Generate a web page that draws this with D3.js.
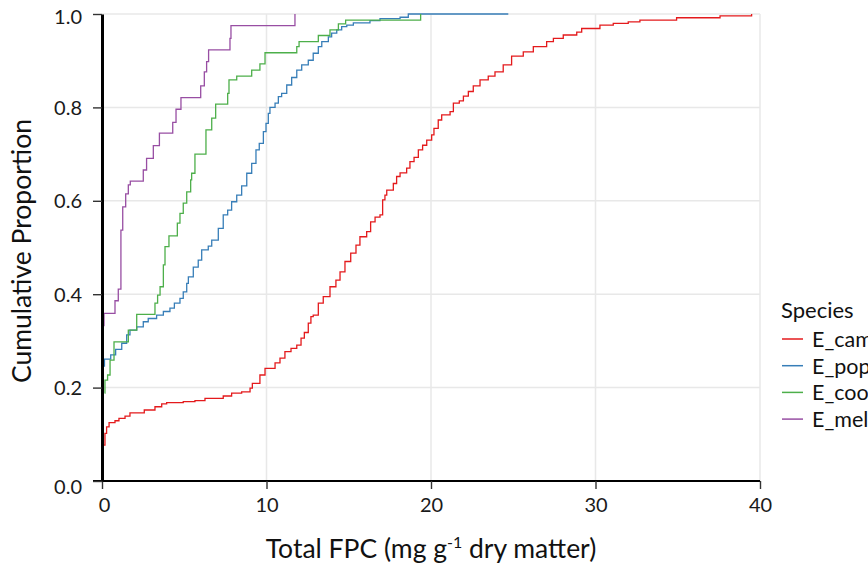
<!DOCTYPE html>
<html><head><meta charset="utf-8">
<script src="https://cdn.jsdelivr.net/npm/d3@7"></script>
<style>body{margin:0;background:#fff;} svg{display:block;font-family:Lato, "Open Sans", sans-serif;}</style>
</head><body><svg id="c" width="868" height="564"></svg>
<script>
const species = ["E_cam", "E_pop", "E_coo", "E_mel"];
const colors = ["#e41a1c", "#377eb8", "#4daf4a", "#984ea3"];
const xTicks = [0, 10, 20, 30, 40];
const yTicks = [0, 0.2, 0.4, 0.6, 0.8, 1.0];

const camFPC = [0.12,0.18,0.28,0.43,0.79,1.03,1.40,1.70,2.57,3.22,3.63,3.93,4.94,5.65,6.26,7.37,7.88,8.49,9.0,9.14,9.6,9.91,10.52,10.82,11.12,11.49,11.84,12.10,12.30,12.54,12.70,12.84,13.15,13.45,13.86,14.22,14.47,14.77,15.12,15.44,15.68,16.09,16.33,16.60,16.90,17.06,17.20,17.31,17.71,17.91,18.12,18.52,18.72,18.97,19.23,19.49,19.74,20.04,20.18,20.44,20.65,21.16,21.36,21.72,21.97,22.27,22.57,22.98,23.48,23.89,24.39,24.90,25.61,26.22,27.03,27.44,28.04,28.86,29.16,30.27,31.08,31.99,32.70,34.93,37.57,39.49];
const camProp = [0.077,0.102,0.116,0.125,0.129,0.134,0.139,0.146,0.152,0.159,0.165,0.168,0.170,0.172,0.177,0.182,0.188,0.191,0.199,0.209,0.227,0.241,0.253,0.263,0.277,0.284,0.291,0.306,0.318,0.338,0.352,0.355,0.381,0.395,0.416,0.430,0.448,0.470,0.488,0.505,0.523,0.534,0.555,0.565,0.570,0.602,0.612,0.623,0.637,0.652,0.660,0.670,0.684,0.693,0.709,0.719,0.730,0.741,0.755,0.773,0.784,0.791,0.809,0.814,0.824,0.834,0.846,0.859,0.867,0.876,0.891,0.910,0.919,0.930,0.941,0.948,0.955,0.961,0.969,0.976,0.980,0.983,0.987,0.992,0.996,1.0];

const popFPC = [0.12,0.15,0.53,0.83,1.20,1.50,1.70,2.11,2.51,2.81,3.32,3.73,4.13,4.40,4.74,4.94,5.15,5.25,5.55,5.85,6.06,6.46,6.67,7.07,7.37,7.64,7.88,8.19,8.49,8.80,9.10,9.36,9.56,9.81,9.97,10.11,10.21,10.52,10.72,10.92,11.23,11.53,11.84,12.14,12.54,12.84,13.15,13.36,13.76,13.96,14.27,14.57,14.88,15.28,16.29,16.90,18.12,18.62,24.7];
const popProp = [0.246,0.261,0.270,0.282,0.295,0.313,0.323,0.330,0.341,0.348,0.355,0.363,0.370,0.381,0.391,0.405,0.423,0.437,0.458,0.473,0.495,0.503,0.516,0.541,0.570,0.580,0.598,0.612,0.632,0.659,0.680,0.709,0.723,0.748,0.766,0.787,0.800,0.809,0.823,0.830,0.848,0.864,0.880,0.891,0.901,0.916,0.930,0.941,0.951,0.959,0.966,0.973,0.976,0.981,0.986,0.990,0.993,1.0,1.0];

const cooFPC = [0.16,0.18,0.34,0.49,0.73,1.60,2.11,3.22,3.38,3.53,3.73,3.83,4.07,4.58,4.74,4.94,5.15,5.39,5.45,5.65,6.32,6.67,6.91,7.64,7.72,8.19,9.10,9.60,9.91,11.84,11.98,13.15,13.86,14.37,14.81,19.37];
const cooProp = [0.188,0.216,0.227,0.259,0.298,0.323,0.357,0.381,0.398,0.416,0.463,0.502,0.525,0.552,0.573,0.595,0.619,0.645,0.659,0.700,0.752,0.777,0.807,0.830,0.859,0.867,0.880,0.893,0.917,0.930,0.941,0.954,0.966,0.979,0.987,1.0];

const melFPC = [0.08,0.12,0.79,0.99,1.15,1.26,1.44,1.60,1.72,2.51,2.71,3.12,3.49,4.30,4.50,4.80,6.00,6.22,6.36,6.48,7.78,7.84,11.73];
const melProp = [0.333,0.359,0.386,0.411,0.537,0.587,0.615,0.634,0.642,0.666,0.691,0.718,0.745,0.768,0.796,0.821,0.846,0.876,0.898,0.923,0.948,0.975,1.0];

const seriesFPC = [camFPC, popFPC, cooFPC, melFPC];
const seriesProp = [camProp, popProp, cooProp, melProp];

const svg = d3.select("#c");
const x = d3.scaleLinear().domain([0, 40]).range([102, 760]);
const y = d3.scaleLinear().domain([0, 1]).range([481, 14]);

// grid
const grid = svg.append("g");
grid.selectAll(".gx").data(xTicks.slice(1)).join("line")
  .attr("x1", d => x(d)).attr("x2", d => x(d)).attr("y1", y(1)).attr("y2", y(0))
  .attr("stroke", "#e8e8e8").attr("stroke-width", 1.5);
grid.selectAll(".gy").data(yTicks.slice(1)).join("line")
  .attr("x1", x(0)).attr("x2", x(40)).attr("y1", d => y(d)).attr("y2", d => y(d))
  .attr("stroke", "#e8e8e8").attr("stroke-width", 1.5);

// curves
const line = d3.line().x(d => x(d[0])).y(d => y(d[1])).curve(d3.curveStepAfter);
species.forEach((s, i) => {
  const pts = seriesFPC[i].map((v, j) => [v, seriesProp[i][j]]);
  svg.append("path").datum(pts).attr("d", line)
    .attr("fill", "none").attr("stroke", colors[i]).attr("stroke-width", 1.3);
});

// axes
const xAxis = svg.append("g").attr("transform", `translate(0,${y(0)})`)
  .call(d3.axisBottom(x).tickValues(xTicks).tickFormat(d3.format("d")).tickSize(8).tickSizeOuter(0));
xAxis.select(".domain").attr("stroke", "#000").attr("stroke-width", 2.2).attr("d", `M${x(0)-9},0H${x(40)}`);
xAxis.selectAll(".tick line").attr("stroke", "#333").attr("stroke-width", 1.4);
xAxis.selectAll(".tick text").attr("font-size", 20).attr("fill", "#1a1a1a").attr("dy", "1.0em").attr("dx", d => d === 0 ? 2 : 0);

const yAxis = svg.append("g").attr("transform", `translate(${x(0)},0)`)
  .call(d3.axisLeft(y).tickValues(yTicks).tickFormat(d3.format(".1f")).tickSize(9).tickSizeOuter(0));
yAxis.select(".domain").attr("stroke", "#000").attr("stroke-width", 3);
yAxis.selectAll(".tick line").attr("stroke", "#333").attr("stroke-width", 1.4);
yAxis.selectAll(".tick text").attr("font-size", 20).attr("fill", "#1a1a1a").attr("x", -20)
  .attr("dy", d => d === 0 ? "0.62em" : (d === 1 ? "0.45em" : "0.35em"));
yAxis.selectAll("text").attr("font-family", "Lato, sans-serif");
xAxis.selectAll("text").attr("font-family", "Lato, sans-serif");

// titles
svg.append("text").attr("transform", `translate(31,251) rotate(-90)`)
  .attr("text-anchor", "middle").attr("font-size", 26.5).attr("fill", "#111")
  .text("Cumulative Proportion");
const xt = svg.append("text").attr("x", 431).attr("y", 558)
  .attr("text-anchor", "middle").attr("font-size", 26.5).attr("fill", "#111");
xt.append("tspan").text("Total FPC (mg g");
xt.append("tspan").attr("font-size", 16).attr("dy", -10).text("-1");
xt.append("tspan").attr("dy", 10).text(" dry matter)");

// legend
const lg = svg.append("g");
lg.append("text").attr("x", 781).attr("y", 318).attr("font-size", 22).attr("fill", "#111").text("Species");
species.forEach((s, i) => {
  const yy = 339 + i * 26.7;
  lg.append("line").attr("x1", 782).attr("x2", 803).attr("y1", yy).attr("y2", yy)
    .attr("stroke", colors[i]).attr("stroke-width", 1.5);
  lg.append("text").attr("x", 812).attr("y", yy + 8).attr("font-size", 21.5).attr("fill", "#111").text(s);
});
</script></body></html>
